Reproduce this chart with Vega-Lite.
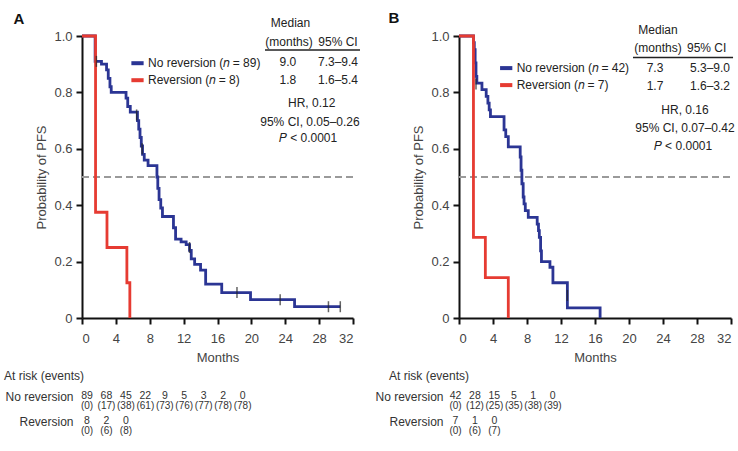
{
  "$schema": "https://vega.github.io/schema/vega-lite/v6.json",
  "padding": {"left": 4, "top": 10, "right": 0, "bottom": 0},
  "bounds": "flush",
  "columns": 2,
  "spacing": {"column": 106, "row": 58},
  "config": {
    "view": {"stroke": null},
    "font": "Liberation Sans",
    "axis": {"grid": false, "domainColor": "#111", "domainWidth": 2, "tickColor": "#111", "tickWidth": 2, "tickSize": 6, "labelFontSize": 13, "labelColor": "#444", "titleFontSize": 13, "titleFontWeight": "normal", "titleColor": "#444"},
    "text": {"fontSize": 12, "color": "#222"},
    "legend": {"symbolType": "stroke", "symbolStrokeWidth": 4, "symbolSize": 150, "labelFontSize": 12, "labelColor": "#222", "padding": 0, "labelOffset": 2, "rowPadding": -0.6, "title": null}
  },
  "datasets": {
    "kmA": [
      {"group": "No reversion", "month": 0, "surv": 1.0},
      {"group": "No reversion", "month": 1.55, "surv": 0.91},
      {"group": "No reversion", "month": 2.3, "surv": 0.9},
      {"group": "No reversion", "month": 2.9, "surv": 0.88},
      {"group": "No reversion", "month": 3.1, "surv": 0.85},
      {"group": "No reversion", "month": 3.3, "surv": 0.82},
      {"group": "No reversion", "month": 3.45, "surv": 0.8},
      {"group": "No reversion", "month": 5.2, "surv": 0.78},
      {"group": "No reversion", "month": 5.4, "surv": 0.75},
      {"group": "No reversion", "month": 5.7, "surv": 0.73},
      {"group": "No reversion", "month": 6.55, "surv": 0.7},
      {"group": "No reversion", "month": 6.7, "surv": 0.67},
      {"group": "No reversion", "month": 6.85, "surv": 0.64},
      {"group": "No reversion", "month": 7.0, "surv": 0.61},
      {"group": "No reversion", "month": 7.15, "surv": 0.58},
      {"group": "No reversion", "month": 7.35, "surv": 0.56},
      {"group": "No reversion", "month": 7.8, "surv": 0.54},
      {"group": "No reversion", "month": 8.85, "surv": 0.5},
      {"group": "No reversion", "month": 8.95, "surv": 0.46},
      {"group": "No reversion", "month": 9.1, "surv": 0.42},
      {"group": "No reversion", "month": 9.3, "surv": 0.39},
      {"group": "No reversion", "month": 9.5, "surv": 0.36},
      {"group": "No reversion", "month": 10.8, "surv": 0.32},
      {"group": "No reversion", "month": 11.05, "surv": 0.28},
      {"group": "No reversion", "month": 11.7, "surv": 0.27},
      {"group": "No reversion", "month": 12.3, "surv": 0.26},
      {"group": "No reversion", "month": 12.7, "surv": 0.24},
      {"group": "No reversion", "month": 12.9, "surv": 0.21},
      {"group": "No reversion", "month": 13.3, "surv": 0.19},
      {"group": "No reversion", "month": 14.0, "surv": 0.17},
      {"group": "No reversion", "month": 14.6, "surv": 0.12},
      {"group": "No reversion", "month": 16.5, "surv": 0.09},
      {"group": "No reversion", "month": 19.9, "surv": 0.065},
      {"group": "No reversion", "month": 25.1, "surv": 0.04},
      {"group": "No reversion", "month": 30.5, "surv": 0.04},
      {"group": "Reversion", "month": 0, "surv": 1.0},
      {"group": "Reversion", "month": 1.6, "surv": 0.375},
      {"group": "Reversion", "month": 2.95, "surv": 0.25},
      {"group": "Reversion", "month": 5.3, "surv": 0.125},
      {"group": "Reversion", "month": 5.65, "surv": 0.0}
    ],
    "censA": [
      {"month": 1.7, "surv": 0.91},
      {"month": 6.45, "surv": 0.72},
      {"month": 7.1, "surv": 0.6},
      {"month": 12.7, "surv": 0.25},
      {"month": 18.3, "surv": 0.09},
      {"month": 23.4, "surv": 0.065},
      {"month": 29.1, "surv": 0.04},
      {"month": 30.5, "surv": 0.04}
    ],
    "kmB": [
      {"group": "No reversion", "month": 0, "surv": 1.0},
      {"group": "No reversion", "month": 1.7, "surv": 0.976},
      {"group": "No reversion", "month": 1.8, "surv": 0.952},
      {"group": "No reversion", "month": 1.9, "surv": 0.905},
      {"group": "No reversion", "month": 2.0, "surv": 0.857},
      {"group": "No reversion", "month": 2.1, "surv": 0.833},
      {"group": "No reversion", "month": 2.7, "surv": 0.81},
      {"group": "No reversion", "month": 3.2, "surv": 0.786},
      {"group": "No reversion", "month": 3.4, "surv": 0.762},
      {"group": "No reversion", "month": 3.55, "surv": 0.738},
      {"group": "No reversion", "month": 3.7, "surv": 0.714},
      {"group": "No reversion", "month": 5.3, "surv": 0.667},
      {"group": "No reversion", "month": 5.5, "surv": 0.643},
      {"group": "No reversion", "month": 5.8, "surv": 0.607},
      {"group": "No reversion", "month": 7.2, "surv": 0.571},
      {"group": "No reversion", "month": 7.3, "surv": 0.524},
      {"group": "No reversion", "month": 7.4, "surv": 0.476},
      {"group": "No reversion", "month": 7.55, "surv": 0.429},
      {"group": "No reversion", "month": 7.65, "surv": 0.405},
      {"group": "No reversion", "month": 7.8, "surv": 0.381},
      {"group": "No reversion", "month": 8.15, "surv": 0.357},
      {"group": "No reversion", "month": 9.2, "surv": 0.333},
      {"group": "No reversion", "month": 9.35, "surv": 0.31},
      {"group": "No reversion", "month": 9.45, "surv": 0.286},
      {"group": "No reversion", "month": 9.6, "surv": 0.238},
      {"group": "No reversion", "month": 9.7, "surv": 0.2},
      {"group": "No reversion", "month": 10.7, "surv": 0.18},
      {"group": "No reversion", "month": 11.05, "surv": 0.125},
      {"group": "No reversion", "month": 12.75, "surv": 0.036},
      {"group": "No reversion", "month": 16.6, "surv": 0.0},
      {"group": "Reversion", "month": 0, "surv": 1.0},
      {"group": "Reversion", "month": 1.7, "surv": 0.286},
      {"group": "Reversion", "month": 3.1, "surv": 0.143},
      {"group": "Reversion", "month": 5.8, "surv": 0.0}
    ],
    "censB": [
      {"month": 2.0, "surv": 0.83},
      {"month": 12.75, "surv": 0.08}
    ],
    "riskA": [
      {"group": "No reversion", "month": 0, "n": 89, "events": 0},
      {"group": "No reversion", "month": 4, "n": 68, "events": 17},
      {"group": "No reversion", "month": 8, "n": 45, "events": 38},
      {"group": "No reversion", "month": 12, "n": 22, "events": 61},
      {"group": "No reversion", "month": 16, "n": 9, "events": 73},
      {"group": "No reversion", "month": 20, "n": 5, "events": 76},
      {"group": "No reversion", "month": 24, "n": 3, "events": 77},
      {"group": "No reversion", "month": 28, "n": 2, "events": 78},
      {"group": "No reversion", "month": 32, "n": 0, "events": 78},
      {"group": "Reversion", "month": 0, "n": 8, "events": 0},
      {"group": "Reversion", "month": 4, "n": 2, "events": 6},
      {"group": "Reversion", "month": 8, "n": 0, "events": 8}
    ],
    "riskB": [
      {"group": "No reversion", "month": 0, "n": 42, "events": 0},
      {"group": "No reversion", "month": 4, "n": 28, "events": 12},
      {"group": "No reversion", "month": 8, "n": 15, "events": 25},
      {"group": "No reversion", "month": 12, "n": 5, "events": 35},
      {"group": "No reversion", "month": 16, "n": 1, "events": 38},
      {"group": "No reversion", "month": 20, "n": 0, "events": 39},
      {"group": "Reversion", "month": 0, "n": 7, "events": 0},
      {"group": "Reversion", "month": 4, "n": 1, "events": 6},
      {"group": "Reversion", "month": 8, "n": 0, "events": 7}
    ]
  },
  "resolve": {"scale": {"color": "independent", "x": "independent", "y": "independent"}, "legend": {"color": "independent"}},
  "concat": [
    {
      "width": 271,
      "height": 282,
      "encoding": {
        "x": {"type": "quantitative", "scale": {"domain": [0, 32], "nice": false, "zero": false}, "axis": {"values": [0, 4, 8, 12, 16, 20, 24, 28, 32], "title": "Months", "labelPadding": 8, "titlePadding": 6}},
        "y": {"type": "quantitative", "scale": {"domain": [0, 1], "nice": false}, "axis": {"values": [0, 0.2, 0.4, 0.6, 0.8, 1.0], "labelExpr": "datum.value == 0 ? '0' : format(datum.value, '.1f')", "title": "Probability of PFS", "labelPadding": 4, "titlePadding": 5}}
      },
      "layer": [
        {"data": {"values": [{}]}, "mark": {"type": "rule", "color": "#9a9a9a", "strokeWidth": 2, "strokeDash": [7, 4]}, "encoding": {"x": {"datum": 0}, "x2": {"datum": 32}, "y": {"datum": 0.5}}},
        {"data": {"name": "kmA"}, "mark": {"type": "line", "interpolate": "step-after", "strokeWidth": 2.8}, "encoding": {"x": {"field": "month"}, "y": {"field": "surv"}, "color": {"field": "group", "type": "nominal", "scale": {"domain": ["No reversion", "Reversion"], "range": ["#2b3594", "#e63b32"]}, "legend": {"orient": "none", "legendX": 47, "legendY": 18.7, "labelExpr": "datum.value == 'No reversion' ? 'No reversion (𝑛 = 89)' : 'Reversion (𝑛 = 8)'"}}}},
        {"data": {"name": "censA"}, "mark": {"type": "tick", "orient": "vertical", "size": 11, "thickness": 1.5, "color": "#222"}, "encoding": {"x": {"field": "month"}, "y": {"field": "surv"}}},
        {"data": {"values": [{}]}, "mark": {"type": "text", "text": "A", "fontSize": 15, "fontWeight": "bold", "color": "#111"}, "encoding": {"x": {"datum": -7.44}, "y": {"datum": 1.06}}},
        {"data": {"values": [{}]}, "mark": {"type": "text", "text": "Median"}, "encoding": {"x": {"datum": 24.62}, "y": {"datum": 1.047}}},
        {"data": {"values": [{}]}, "mark": {"type": "text", "text": "(months)"}, "encoding": {"x": {"datum": 24.44}, "y": {"datum": 0.98}}},
        {"data": {"values": [{}]}, "mark": {"type": "text", "text": "95% CI"}, "encoding": {"x": {"datum": 30.23}, "y": {"datum": 0.98}}},
        {"data": {"values": [{}]}, "mark": {"type": "rule", "color": "#222", "strokeWidth": 1.5}, "encoding": {"x": {"datum": 21.61}, "x2": {"datum": 32.83}, "y": {"datum": 0.95}}},
        {"data": {"values": [{}]}, "mark": {"type": "text", "text": "9.0"}, "encoding": {"x": {"datum": 24.32}, "y": {"datum": 0.908}}},
        {"data": {"values": [{}]}, "mark": {"type": "text", "text": "7.3–9.4"}, "encoding": {"x": {"datum": 30.23}, "y": {"datum": 0.908}}},
        {"data": {"values": [{}]}, "mark": {"type": "text", "text": "1.8"}, "encoding": {"x": {"datum": 24.32}, "y": {"datum": 0.844}}},
        {"data": {"values": [{}]}, "mark": {"type": "text", "text": "1.6–5.4"}, "encoding": {"x": {"datum": 30.23}, "y": {"datum": 0.844}}},
        {"data": {"values": [{}]}, "mark": {"type": "text", "text": "HR, 0.12"}, "encoding": {"x": {"datum": 27.12}, "y": {"datum": 0.762}}},
        {"data": {"values": [{}]}, "mark": {"type": "text", "text": "95% CI, 0.05–0.26"}, "encoding": {"x": {"datum": 26.92}, "y": {"datum": 0.696}}},
        {"data": {"values": [{}]}, "mark": {"type": "text", "text": "𝑃 < 0.0001"}, "encoding": {"x": {"datum": 26.69}, "y": {"datum": 0.638}}}
      ]
    },
    {
      "width": 272,
      "height": 282,
      "encoding": {
        "x": {"type": "quantitative", "scale": {"domain": [0, 32], "nice": false, "zero": false}, "axis": {"values": [0, 4, 8, 12, 16, 20, 24, 28, 32], "title": "Months", "labelPadding": 8, "titlePadding": 6}},
        "y": {"type": "quantitative", "scale": {"domain": [0, 1], "nice": false}, "axis": {"values": [0, 0.2, 0.4, 0.6, 0.8, 1.0], "labelExpr": "datum.value == 0 ? '0' : format(datum.value, '.1f')", "title": "Probability of PFS", "labelPadding": 4, "titlePadding": 5}}
      },
      "layer": [
        {"data": {"values": [{}]}, "mark": {"type": "rule", "color": "#9a9a9a", "strokeWidth": 2, "strokeDash": [7, 4]}, "encoding": {"x": {"datum": 0}, "x2": {"datum": 32}, "y": {"datum": 0.5}}},
        {"data": {"name": "kmB"}, "mark": {"type": "line", "interpolate": "step-after", "strokeWidth": 2.8}, "encoding": {"x": {"field": "month"}, "y": {"field": "surv"}, "color": {"field": "group", "type": "nominal", "scale": {"domain": ["No reversion", "Reversion"], "range": ["#2b3594", "#e63b32"]}, "legend": {"orient": "none", "legendX": 38.7, "legendY": 23.6, "labelExpr": "datum.value == 'No reversion' ? 'No reversion (𝑛 = 42)' : 'Reversion (𝑛 = 7)'"}}}},
        {"data": {"name": "censB"}, "mark": {"type": "tick", "orient": "vertical", "size": 11, "thickness": 1.5, "color": "#222"}, "encoding": {"x": {"field": "month"}, "y": {"field": "surv"}}},
        {"data": {"values": [{}]}, "mark": {"type": "text", "text": "B", "fontSize": 15, "fontWeight": "bold", "color": "#111"}, "encoding": {"x": {"datum": -7.65}, "y": {"datum": 1.064}}},
        {"data": {"values": [{}]}, "mark": {"type": "text", "text": "Median"}, "encoding": {"x": {"datum": 23.41}, "y": {"datum": 1.021}}},
        {"data": {"values": [{}]}, "mark": {"type": "text", "text": "(months)"}, "encoding": {"x": {"datum": 23.41}, "y": {"datum": 0.957}}},
        {"data": {"values": [{}]}, "mark": {"type": "text", "text": "95% CI"}, "encoding": {"x": {"datum": 29.14}, "y": {"datum": 0.957}}},
        {"data": {"values": [{}]}, "mark": {"type": "rule", "color": "#222", "strokeWidth": 1.5}, "encoding": {"x": {"datum": 20.47}, "x2": {"datum": 32.24}, "y": {"datum": 0.924}}},
        {"data": {"values": [{}]}, "mark": {"type": "text", "text": "7.3"}, "encoding": {"x": {"datum": 23.06}, "y": {"datum": 0.885}}},
        {"data": {"values": [{}]}, "mark": {"type": "text", "text": "5.3–9.0"}, "encoding": {"x": {"datum": 29.53}, "y": {"datum": 0.885}}},
        {"data": {"values": [{}]}, "mark": {"type": "text", "text": "1.7"}, "encoding": {"x": {"datum": 23.06}, "y": {"datum": 0.823}}},
        {"data": {"values": [{}]}, "mark": {"type": "text", "text": "1.6–3.2"}, "encoding": {"x": {"datum": 29.53}, "y": {"datum": 0.823}}},
        {"data": {"values": [{}]}, "mark": {"type": "text", "text": "HR, 0.16"}, "encoding": {"x": {"datum": 26.59}, "y": {"datum": 0.738}}},
        {"data": {"values": [{}]}, "mark": {"type": "text", "text": "95% CI, 0.07–0.42"}, "encoding": {"x": {"datum": 26.59}, "y": {"datum": 0.673}}},
        {"data": {"values": [{}]}, "mark": {"type": "text", "text": "𝑃 < 0.0001"}, "encoding": {"x": {"datum": 26.35}, "y": {"datum": 0.61}}}
      ]
    },
    {
      "width": 271,
      "height": 50,
      "data": {"name": "riskA"},
      "encoding": {
        "x": {"type": "quantitative", "scale": {"domain": [-1.03, 54.7], "nice": false, "zero": false}, "axis": null},
        "y": {"type": "nominal", "scale": {"type": "point", "padding": 0, "domain": ["At risk (events)", "No reversion", "Reversion"]}, "axis": {"domain": false, "ticks": false, "labelPadding": 9, "labelOffset": -5, "labelFontSize": 12, "labelColor": "#333", "title": null, "labelExpr": "datum.value == 'At risk (events)' ? '' : datum.value"}}
      },
      "layer": [
        {"mark": {"type": "text", "dy": -5.5, "color": "#333", "fontSize": 10.5}, "encoding": {"x": {"field": "month"}, "y": {"field": "group"}, "text": {"field": "n", "type": "quantitative"}}},
        {"mark": {"type": "text", "dy": 5, "color": "#333", "fontSize": 10, "text": {"expr": "'(' + datum.events + ')'"}}, "encoding": {"x": {"field": "month"}, "y": {"field": "group"}}},
        {"data": {"values": [{}]}, "mark": {"type": "text", "text": "At risk (events)", "align": "left", "color": "#333"}, "encoding": {"x": {"datum": -17.07}, "y": {"datum": "At risk (events)"}}}
      ]
    },
    {
      "width": 272,
      "height": 50,
      "data": {"name": "riskB"},
      "encoding": {
        "x": {"type": "quantitative", "scale": {"domain": [0.72, 56.69], "nice": false, "zero": false}, "axis": null},
        "y": {"type": "nominal", "scale": {"type": "point", "padding": 0, "domain": ["At risk (events)", "No reversion", "Reversion"]}, "axis": {"domain": false, "ticks": false, "labelPadding": 16, "labelOffset": -5, "labelFontSize": 12, "labelColor": "#333", "title": null, "labelExpr": "datum.value == 'At risk (events)' ? '' : datum.value"}}
      },
      "layer": [
        {"mark": {"type": "text", "dy": -5.5, "color": "#333", "fontSize": 10.5}, "encoding": {"x": {"field": "month"}, "y": {"field": "group"}, "text": {"field": "n", "type": "quantitative"}}},
        {"mark": {"type": "text", "dy": 5, "color": "#333", "fontSize": 10, "text": {"expr": "'(' + datum.events + ')'"}}, "encoding": {"x": {"field": "month"}, "y": {"field": "group"}}},
        {"data": {"values": [{}]}, "mark": {"type": "text", "text": "At risk (events)", "align": "left", "color": "#333"}, "encoding": {"x": {"datum": -13.68}, "y": {"datum": "At risk (events)"}}}
      ]
    }
  ]
}
